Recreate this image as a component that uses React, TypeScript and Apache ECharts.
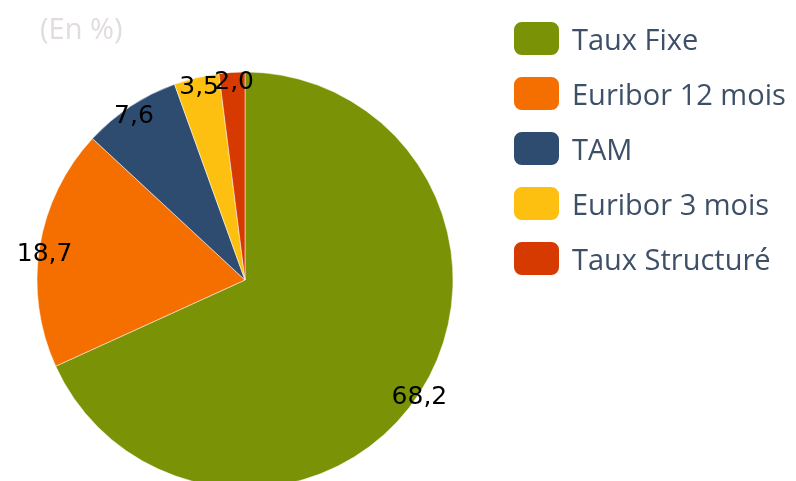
import React, { useEffect, useRef } from "react";
import * as echarts from "echarts";

const categories = ["Taux Fixe", "Euribor 12 mois", "TAM", "Euribor 3 mois", "Taux Structuré"];
const values = [68.2, 18.7, 7.6, 3.5, 2.0];
const colors = ["#7a9306", "#f46f00", "#2e4c70", "#fdc010", "#d63a00"];

export default function App() {
  const ref = useRef<HTMLDivElement>(null);
  useEffect(() => {
    if (!ref.current) return;
    const chart = echarts.init(ref.current, undefined, { renderer: "svg" });
    const data = categories.map((name, i) => ({ name, value: values[i] }));
    chart.setOption({
      animation: false,
      color: colors,
      title: {
        text: "(En %)",
        left: 35,
        top: 8,
        textStyle: { color: "#e2dcdf", fontSize: 29, fontWeight: "normal", fontFamily: "Open Sans" },
      },
      legend: {
        orient: "vertical",
        left: 512,
        top: 20,
        padding: 0,
        itemWidth: 47,
        itemHeight: 35,
        itemGap: 18,
        icon: "roundRect",
        data: categories,
        textStyle: {
          color: "#3d5068",
          fontSize: 29,
          lineHeight: 35,
          fontFamily: "Open Sans",
          padding: [0, 0, 0, 7],
        },
      },
      series: [
        {
          type: "pie",
          center: [245, 280],
          radius: [0, 208],
          startAngle: 90,
          clockwise: true,
          data,
          label: { show: false },
          labelLine: { show: false },
          itemStyle: { borderColor: "#ffffff", borderWidth: 0.5 },
          emphasis: { disabled: true },
        },
        {
          type: "pie",
          center: [247, 285],
          radius: [150, 254],
          startAngle: 90,
          clockwise: true,
          silent: true,
          minShowLabelAngle: 0,
          avoidLabelOverlap: false,
          legendHoverLink: false,
          labelLayout: { hideOverlap: false },
          data: data.map((d) => ({ ...d, itemStyle: { color: "transparent" } })),
          itemStyle: { color: "transparent", borderWidth: 0 },
          label: {
            show: true,
            position: "inside",
            color: "#000000",
            fontSize: 25,
            fontFamily: "DejaVu Sans",
            formatter: (p: any) => p.value.toFixed(1).replace(".", ","),
          },
          labelLine: { show: false },
          emphasis: { disabled: true },
        },
      ],
    });
    return () => chart.dispose();
  }, []);
  return <div ref={ref} style={{ position: "fixed", left: 0, top: 0, width: 796, height: 481 }} />;
}
